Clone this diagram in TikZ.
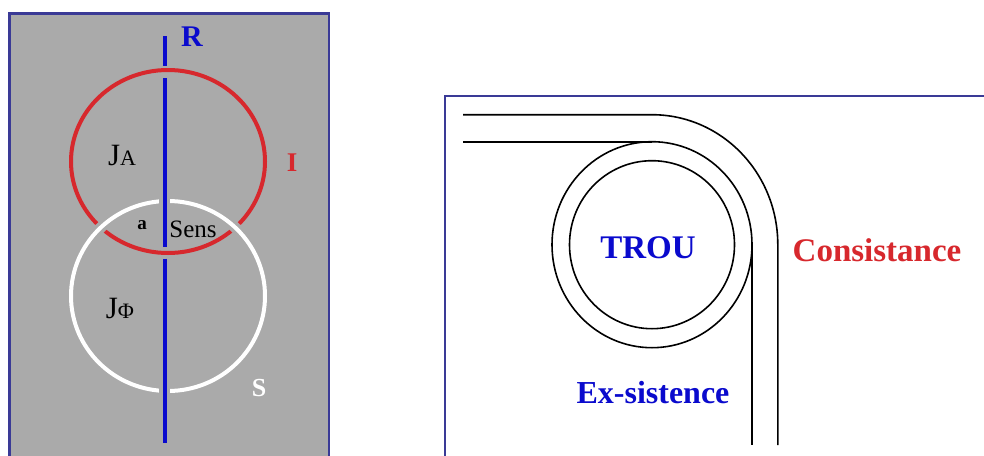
\documentclass[tikz,border=0pt]{standalone}
\usepackage{fontspec}
\setmainfont{Liberation Serif}
\usepackage{tikz}
\usetikzlibrary{positioning}

\definecolor{framecol}{RGB}{58,58,150}
\definecolor{panelgray}{RGB}{170,170,170}
\definecolor{ringred}{RGB}{215,40,45}
\definecolor{axisblue}{RGB}{10,10,205}

\begin{document}
\begin{tikzpicture}[x=1pt,y=-1pt]

        \tikzstyle{every node}=[inner sep=0pt]
        \tikzstyle{halo}=[preaction={draw=panelgray,line width=11pt}]
        \useasboundingbox (0,0) rectangle (984,455);

        % Left panel: grey box
        \fill[panelgray] (9.5,13.5) rectangle (329,470);
        \draw[framecol, line width=2.5pt] (9.5,13.5) rectangle (329,470);

        % Define ring centres
        \coordinate (redc) at (168,161.5);
        \coordinate (whitec) at (168,296);

        % Draw the red ring (I)
        \draw[ringred, line width=4pt] (redc) ellipse [x radius=97, y radius=91.5];

        % Draw the white ring (S), passing over the red one
        \draw[white, line width=4pt, halo] (whitec) ellipse [x radius=97, y radius=95];

        % Draw the blue line (R), cut where red passes over it
        \coordinate (rtop) at (164.5,36);
        \coordinate (rbot) at (164.5,443);
        \draw[axisblue, line width=4pt] (rtop) -- (164.5,66);
        \draw[axisblue, line width=4pt, halo] (164.5,78) -- (164.5,246.5);
        \draw[axisblue, line width=4pt, halo] (164.5,258.5) -- (rbot);

        % Add labels for the rings
        \node[font=\fontsize{30}{30}\selectfont\bfseries, text=axisblue] (rlab) at (192,37) {R};
        \node[font=\fontsize{27}{27}\selectfont\bfseries, text=ringred] (ilab) at (292,163) {I};
        \node[font=\fontsize{26}{26}\selectfont\bfseries, text=white] (slab) at (259,388) {S};
        \node[font=\fontsize{31}{31}\selectfont] (ja) at (122,155) {J{\fontsize{22}{22}\selectfont A}};
        \node[font=\fontsize{31}{31}\selectfont] (jphi) at (120,308) {J{\fontsize{22}{22}\selectfont Φ}};
        \node[font=\fontsize{19}{19}\selectfont\bfseries] (alab) at (142,225) {a};
        \node[font=\fontsize{25}{25}\selectfont] (sens) at (193,229) {Sens};

        % Right panel: white box
        \draw[framecol, line width=2.5pt] (445,96) rectangle (1000,470);

        % Define hole centre
        \coordinate (hole) at (652,244.7);

        % Draw the outer band
        \draw[line width=1.6pt] (463,114.7) -- (652,114.7)
            arc [start angle=-90, end angle=0, x radius=125.8, y radius=130] -- (777.8,445);

        % Draw the inner band round the hole
        \draw[line width=1.6pt] (463,141.7) -- (652,141.7);
        \draw[line width=1.6pt] (hole) ellipse [x radius=100, y radius=103];
        \draw[line width=1.6pt] (hole) ellipse [x radius=82.5, y radius=84];
        \draw[line width=1.6pt] (751.8,244.7) -- (751.8,445);

        % Add labels
        \node[font=\fontsize{33}{33}\selectfont\bfseries, text=axisblue] (trou) at (648,248) {TROU};
        \node[font=\fontsize{33}{33}\selectfont\bfseries, text=ringred] (consist) at (877,250) {Consistance};
        \node[font=\fontsize{32}{32}\selectfont\bfseries, text=axisblue] (exsist) at (653,393) {Ex-sistence};
    \end{tikzpicture}
\end{document}
